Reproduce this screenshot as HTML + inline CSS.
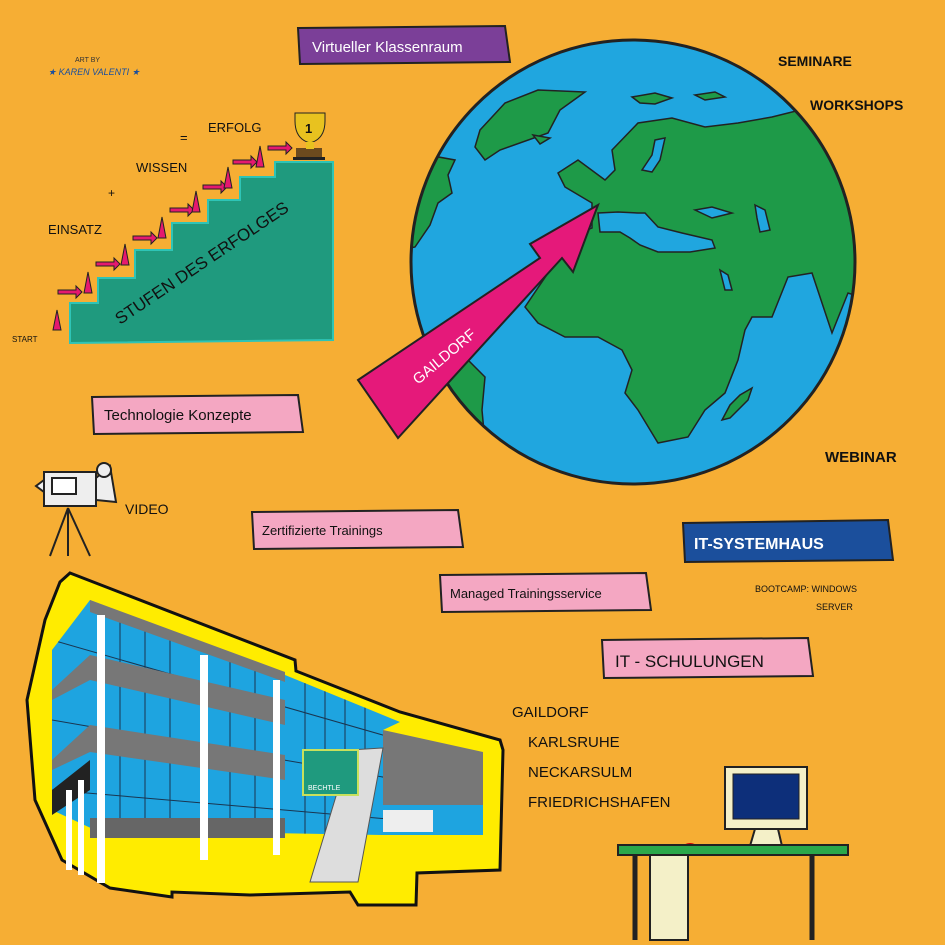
<!DOCTYPE html>
<html><head><meta charset="utf-8"><style>
html,body{margin:0;padding:0;background:#F6AE34;}
svg{display:block}
text{font-family:"Liberation Sans",sans-serif;}
</style></head><body>
<svg width="945" height="945" viewBox="0 0 945 945" xmlns="http://www.w3.org/2000/svg">
<defs><clipPath id="gc"><circle cx="633" cy="262" r="221"/></clipPath>
<clipPath id="bc"><polygon points="90,600 285,675 400,722 383,730 383,835 95,830 52,810 52,650"/></clipPath></defs>
<rect width="945" height="945" fill="#F6AE34"/>

<text x="75" y="62" font-size="7" fill="#333">ART BY</text>
<text x="48" y="75" font-size="9" fill="#1b4f9c" font-style="italic">★ KAREN VALENTI ★</text>

<polygon points="298,28 505,26 510,62 300,64" fill="#7B3F98" stroke="#222" stroke-width="2"/>
<text x="312" y="52" font-size="15" fill="#fff">Virtueller Klassenraum</text>

<text x="778" y="66" font-size="14" fill="#111" font-weight="bold">SEMINARE</text>
<text x="810" y="110" font-size="14" fill="#111" font-weight="bold">WORKSHOPS</text>

<polygon points="70,343 333,340 333,162 275,162 275,177 240,177 240,200 208,200 208,223 172,223 172,250 135,250 135,278 98,278 98,303 70,303" fill="#1F9A7E" stroke="#2EC4B6" stroke-width="2"/>
<text x="0" y="0" font-size="17" fill="#111" transform="translate(120,325) rotate(-34)">STUFEN DES ERFOLGES</text>
<g fill="#E5196F" stroke="#222" stroke-width="1">
<polygon points="53,330 57,310 61,330"/><polygon points="58,290 76,290 76,286 82,292 76,298 76,294 58,294"/>
<polygon points="84,293 88,272 92,293"/><polygon points="96,262 114,262 114,258 120,264 114,270 114,266 96,266"/>
<polygon points="121,265 125,244 129,265"/><polygon points="133,236 151,236 151,232 157,238 151,244 151,240 133,240"/>
<polygon points="158,238 162,217 166,238"/><polygon points="170,208 188,208 188,204 194,210 188,216 188,212 170,212"/>
<polygon points="192,212 196,191 200,212"/><polygon points="203,185 221,185 221,181 227,187 221,193 221,189 203,189"/>
<polygon points="224,188 228,167 232,188"/><polygon points="233,160 251,160 251,156 257,162 251,168 251,164 233,164"/>
<polygon points="256,167 260,146 264,167"/><polygon points="268,146 286,146 286,142 292,148 286,154 286,150 268,150"/>
</g>
<rect x="296" y="148" width="26" height="10" fill="#6b4a1e"/>
<rect x="293" y="157" width="32" height="3" fill="#222"/>
<path d="M295,113 h30 v8 q0,18 -15,22 q-15,-4 -15,-22z" fill="#E8C21F" stroke="#222"/>
<text x="305" y="133" font-size="13" fill="#111" font-weight="bold">1</text>
<rect x="306" y="142" width="8" height="7" fill="#E8C21F"/>
<text x="12" y="342" font-size="8" fill="#111">START</text>
<text x="48" y="234" font-size="13" fill="#111">EINSATZ</text>
<text x="108" y="197" font-size="12" fill="#111">+</text>
<text x="136" y="172" font-size="13" fill="#111">WISSEN</text>
<text x="180" y="142" font-size="13" fill="#111">=</text>
<text x="208" y="132" font-size="13" fill="#111">ERFOLG</text>

<circle cx="633" cy="262" r="222" fill="#20A6DF"/>
<g clip-path="url(#gc)" fill="#1E9A48" stroke="#222" stroke-width="1.5">
<path d="M612,150 L638,123 L672,118 L705,127 L738,123 L772,117 L800,110 L860,120 L870,300 L848,293 L832,333 L812,273 L788,277 L772,317 L752,317 L745,330 L738,360 L725,393 L705,410 L688,437 L658,443 L638,410 L625,393 L632,370 L622,350 L598,337 L565,337 L538,323 L525,307 L552,267 L560,240 L592,228 L592,203 L565,187 L558,173 L578,160 L605,180 L615,170z"/>
<path d="M538,90 L585,92 L560,110 L548,133 L500,150 L485,160 L475,147 L480,130 L505,103z"/>
<path d="M400,150 L455,160 L448,175 L452,193 L438,203 L430,225 L415,247 L400,250z"/>
<path d="M400,360 L468,360 L485,377 L482,410 L485,443 L485,500 L400,500z"/>
<path d="M752,388 L748,400 L730,418 L722,420 L730,405 L740,395z"/>
<path d="M632,97 L655,93 L672,98 L655,104 L640,103z"/>
<path d="M695,95 L715,92 L725,97 L705,100z"/>
<path d="M533,135 L550,138 L540,144z"/>
</g>
<g fill="#20A6DF" stroke="#222" stroke-width="1.5">
<path d="M598,213 L618,212 L638,213 L645,213 L658,227 L682,233 L712,240 L715,248 L690,252 L658,252 L640,245 L630,238 L620,232 L600,232z"/>
<path d="M695,210 L712,207 L732,213 L712,218z"/>
<path d="M755,205 L765,210 L770,230 L760,232 L757,218z"/>
<path d="M655,140 L665,138 L660,160 L652,172 L642,170 L652,155z"/>
<path d="M720,270 L728,275 L732,290 L725,290z"/>
</g>
<circle cx="633" cy="262" r="222" fill="none" stroke="#222" stroke-width="3"/>
<polygon points="358,380 540,258 530,244 598,205 573,272 562,258 398,438" fill="#E5197A" stroke="#222" stroke-width="2"/>
<text x="0" y="0" font-size="15" fill="#fff" transform="translate(418,385) rotate(-40)">GAILDORF</text>

<polygon points="92,397 298,395 303,432 94,434" fill="#F4A7C2" stroke="#222" stroke-width="2"/>
<text x="104" y="420" font-size="15" fill="#111">Technologie Konzepte</text>
<polygon points="252,512 458,510 463,547 254,549" fill="#F4A7C2" stroke="#222" stroke-width="2"/>
<text x="262" y="535" font-size="13" fill="#111">Zertifizierte Trainings</text>
<polygon points="440,575 646,573 651,610 442,612" fill="#F4A7C2" stroke="#222" stroke-width="2"/>
<text x="450" y="598" font-size="13" fill="#111">Managed Trainingsservice</text>
<polygon points="602,640 808,638 813,676 604,678" fill="#F4A7C2" stroke="#222" stroke-width="2"/>
<text x="615" y="667" font-size="17" fill="#111">IT - SCHULUNGEN</text>

<text x="825" y="462" font-size="15" fill="#111" font-weight="bold">WEBINAR</text>
<polygon points="683,523 888,520 893,560 685,562" fill="#1B4F9C" stroke="#222" stroke-width="2"/>
<text x="694" y="549" font-size="16" fill="#fff" font-weight="bold">IT-SYSTEMHAUS</text>
<text x="755" y="592" font-size="9" fill="#111">BOOTCAMP: WINDOWS</text>
<text x="816" y="610" font-size="9" fill="#111">SERVER</text>

<g stroke="#222" stroke-width="2">
<line x1="68" y1="508" x2="50" y2="556"/><line x1="68" y1="508" x2="68" y2="556"/><line x1="68" y1="508" x2="90" y2="556"/>
<rect x="44" y="472" width="52" height="34" fill="#eee"/>
<rect x="52" y="478" width="24" height="16" fill="#fff"/>
<polygon points="96,478 110,466 116,502 96,500" fill="#eee"/>
<circle cx="104" cy="470" r="7" fill="#eee"/>
<polygon points="44,480 36,486 44,492" fill="#eee"/>
</g>
<text x="125" y="514" font-size="14" fill="#111">VIDEO</text>

<path d="M70,573 L295,660 L296,671 L400,712 L500,740 L503,750 L500,870 L417,873 L416,905 L358,905 L350,892 L250,895 L172,892 L172,897 L110,888 L62,860 L35,800 L27,700 L45,620 L60,582z" fill="#FFEC00" stroke="#111" stroke-width="3"/>
<polygon points="90,600 285,675 400,722 383,730 383,835 95,830 52,810 52,650" fill="#1EA4E0"/>
<g clip-path="url(#bc)" stroke="#1a3550" stroke-width="1">
<line x1="120" y1="590" x2="120" y2="840"/><line x1="145" y1="590" x2="145" y2="840"/><line x1="170" y1="590" x2="170" y2="840"/><line x1="230" y1="590" x2="230" y2="840"/><line x1="255" y1="590" x2="255" y2="840"/><line x1="305" y1="590" x2="305" y2="840"/><line x1="325" y1="590" x2="325" y2="840"/><line x1="345" y1="590" x2="345" y2="840"/><line x1="365" y1="590" x2="365" y2="840"/>
<line x1="52" y1="640" x2="400" y2="740"/><line x1="52" y1="720" x2="400" y2="780"/><line x1="52" y1="790" x2="400" y2="820"/>
</g>
<polygon points="90,600 285,672 285,682 90,612" fill="#777"/>
<polygon points="90,655 285,700 285,725 90,680 52,700 52,690" fill="#777"/>
<polygon points="90,725 285,755 285,780 90,752 52,770 52,760" fill="#777"/>
<polygon points="52,790 90,760 90,790 52,815" fill="#222"/>
<rect x="90" y="818" width="195" height="20" fill="#666"/>
<g fill="#fff"><rect x="97" y="615" width="8" height="268"/><rect x="200" y="655" width="8" height="205"/><rect x="273" y="680" width="7" height="175"/><rect x="78" y="780" width="6" height="95"/><rect x="66" y="790" width="6" height="80"/></g>
<polygon points="383,730 483,752 483,812 383,818" fill="#777"/>
<rect x="383" y="805" width="100" height="30" fill="#1EA4E0"/>
<rect x="383" y="810" width="50" height="22" fill="#eee"/>
<polygon points="350,750 383,748 358,882 310,882" fill="#ddd" stroke="#555"/>
<rect x="303" y="750" width="55" height="45" fill="#1F9A7E" stroke="#c8e05c" stroke-width="2"/>
<text x="308" y="790" font-size="7" fill="#fff">BECHTLE</text>

<text x="512" y="717" font-size="15" fill="#111">GAILDORF</text>
<text x="528" y="747" font-size="15" fill="#111">KARLSRUHE</text>
<text x="528" y="777" font-size="15" fill="#111">NECKARSULM</text>
<text x="528" y="807" font-size="15" fill="#111">FRIEDRICHSHAFEN</text>

<rect x="725" y="767" width="82" height="62" fill="#F4F0C8" stroke="#222" stroke-width="2"/>
<rect x="733" y="774" width="66" height="45" fill="#0D2F7A" stroke="#222"/>
<polygon points="755,829 778,829 782,846 750,846" fill="#F4F0C8" stroke="#222" stroke-width="2"/>
<ellipse cx="690" cy="846" rx="6" ry="3" fill="#c00"/>
<rect x="618" y="845" width="230" height="10" fill="#2BA84A" stroke="#222" stroke-width="2"/>
<line x1="635" y1="855" x2="635" y2="940" stroke="#222" stroke-width="5"/>
<line x1="812" y1="855" x2="812" y2="940" stroke="#222" stroke-width="5"/>
<rect x="650" y="855" width="38" height="85" fill="#F4F0C8" stroke="#222" stroke-width="2"/>
</svg>
</body></html>
